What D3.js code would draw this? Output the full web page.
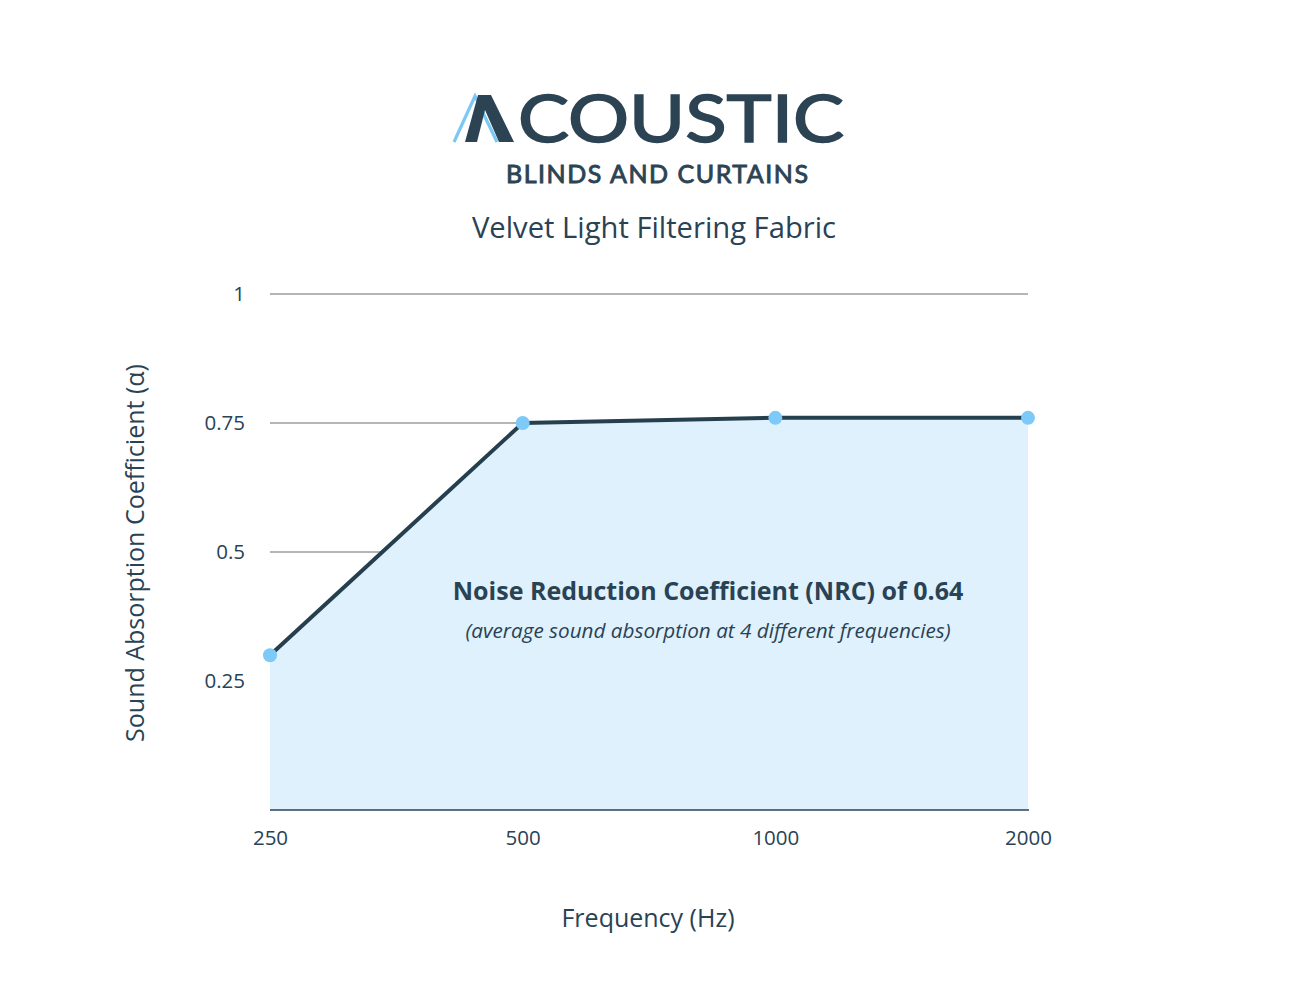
<!DOCTYPE html>
<html><head><meta charset="utf-8">
<script src="https://cdn.jsdelivr.net/npm/d3@7"></script>
<style>body{margin:0;background:#fff}svg{display:block}text{font-family:"Open Sans",sans-serif}</style>
</head><body>
<svg id="c" width="1300" height="1000"></svg>
<script>
const frequencies = ["250", "500", "1000", "2000"];
const absorption = [0.30, 0.75, 0.76, 0.76];
const yTicks = [0.25, 0.5, 0.75, 1];
const yTickLabels = ["0.25", "0.5", "0.75", "1"];
const gridValues = [0.25, 0.5, 0.75, 1];

const dark = "#294254";
const svg = d3.select("#c");
const x = d3.scalePoint().domain(frequencies).range([270, 1028]);
const y = d3.scaleLinear().domain([0, 1]).range([810, 294]);
const data = frequencies.map((f, i) => ({f, v: absorption[i]}));

// Logo
const logo = svg.append("g");
logo.append("polyline").attr("points", "454,142 475,96 497,142")
  .attr("fill", "none").attr("stroke", "#7cc8f5").attr("stroke-width", 3.2).attr("stroke-linejoin", "miter");
logo.append("polygon").attr("points", "465,142 478,95 491,95 514,142 499,142 485,110 477,142")
  .attr("fill", "#2c4354");
logo.append("text").attr("x", 518).attr("y", 142)
  .attr("font-size", 65).attr("font-weight", 400).attr("fill", "#2c4354")
  .attr("stroke", "#2c4354").attr("stroke-width", 1.6)
  .attr("textLength", 326).attr("lengthAdjust", "spacingAndGlyphs").style("font-family", "Lato, sans-serif").text("COUSTIC");
logo.append("text").attr("x", 506).attr("y", 183)
  .attr("font-size", 25).attr("font-weight", 400).attr("fill", "#2c4354")
  .attr("stroke", "#2c4354").attr("stroke-width", 0.9)
  .attr("textLength", 302).attr("lengthAdjust", "spacing").style("font-family", "Lato, sans-serif").text("BLINDS AND CURTAINS");

// Title
svg.append("text").attr("x", 654).attr("y", 238).attr("text-anchor", "middle")
  .attr("font-size", 29.2).attr("fill", dark).text("Velvet Light Filtering Fabric");

// Grid
svg.append("g").selectAll("line").data(gridValues).join("line")
  .attr("x1", 270).attr("x2", 1028).attr("y1", d => y(d)).attr("y2", d => y(d))
  .attr("stroke", "#b5b5b5").attr("stroke-width", 2);

// Y axis labels
const yAxis = d3.axisLeft(y).tickValues(yTicks).tickFormat((d, i) => yTickLabels[i]).tickSize(0).tickPadding(0);
const ya = svg.append("g").attr("transform", "translate(245,0)").call(yAxis);
ya.select(".domain").remove();
ya.selectAll("text").attr("font-size", 20.5).attr("fill", dark).style("font-family", "'Open Sans', sans-serif").attr("dy", "0.32em");

// Area
svg.append("path").datum(data)
  .attr("d", d3.area().x(d => x(d.f)).y0(y(0)).y1(d => y(d.v)))
  .attr("fill", "#dff1fd");

// Baseline
svg.append("line").attr("x1", 270).attr("x2", 1029).attr("y1", y(0)).attr("y2", y(0))
  .attr("stroke", dark).attr("stroke-width", 1.5);

// X axis labels
const xAxis = d3.axisBottom(x).tickSize(0).tickPadding(0);
const xa = svg.append("g").attr("transform", "translate(0,845)").call(xAxis);
xa.select(".domain").remove();
xa.selectAll("text").attr("font-size", 20.5).attr("fill", dark).attr("dy", 0).style("font-family", "'Open Sans', sans-serif");

// Line
svg.append("path").datum(data)
  .attr("d", d3.line().x(d => x(d.f)).y(d => y(d.v)))
  .attr("fill", "none").attr("stroke", "#263f4e").attr("stroke-width", 4);

svg.append("g").selectAll("circle").data(data).join("circle")
  .attr("cx", d => x(d.f)).attr("cy", d => y(d.v)).attr("r", 7).attr("fill", "#7dc9f7");

// Annotation
svg.append("text").attr("x", 708).attr("y", 600).attr("text-anchor", "middle")
  .attr("font-size", 25).attr("font-weight", 700).attr("fill", dark)
  .text("Noise Reduction Coefficient (NRC) of " + d3.format(".2f")(d3.mean(absorption)));
svg.append("text").attr("x", 708).attr("y", 638).attr("text-anchor", "middle")
  .attr("font-size", 20.7).attr("font-style", "italic").attr("fill", dark)
  .text("(average sound absorption at 4 different frequencies)");

// Axis titles
svg.append("text").attr("transform", "translate(144,553) rotate(-90)").attr("text-anchor", "middle")
  .attr("font-size", 25).attr("fill", dark).text("Sound Absorption Coefficient (α)");
svg.append("text").attr("x", 648).attr("y", 927).attr("text-anchor", "middle")
  .attr("font-size", 25).attr("fill", dark).text("Frequency (Hz)");
</script>
</body></html>
